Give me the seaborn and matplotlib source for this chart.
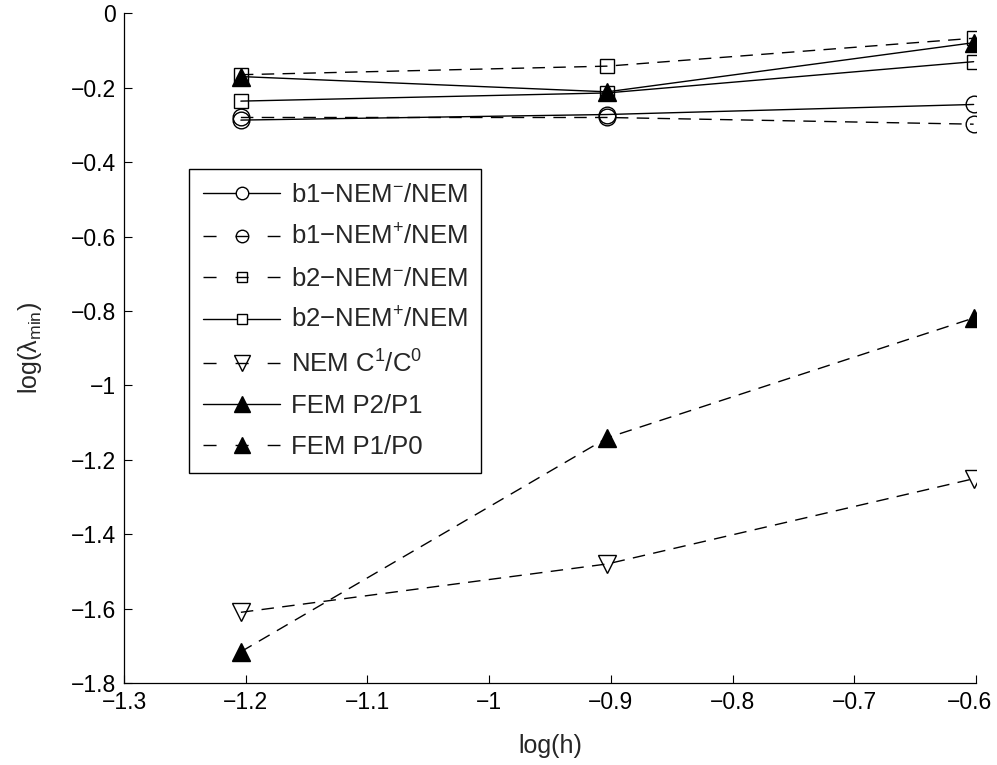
import numpy as np
import pandas as pd
import matplotlib
matplotlib.use("Agg")
import matplotlib.pyplot as plt
from matplotlib.lines import Line2D
from matplotlib.ticker import FuncFormatter
from matplotlib.transforms import ScaledTranslation
import seaborn as sns

# ---- data ----
log_h = [-1.204, -0.903, -0.602]

labels = [
    "b1\u2212NEM$^{-}$/NEM",
    "b1\u2212NEM$^{+}$/NEM",
    "b2\u2212NEM$^{-}$/NEM",
    "b2\u2212NEM$^{+}$/NEM",
    "NEM C$^{1}$/C$^{0}$",
    "FEM P2/P1",
    "FEM P1/P0",
]
b1_minus = [-0.287, -0.272, -0.245]
b1_plus = [-0.280, -0.280, -0.298]
b2_minus = [-0.165, -0.142, -0.067]
b2_plus = [-0.236, -0.214, -0.130]
nem_c1c0 = [-1.610, -1.480, -1.251]
fem_p2p1 = [-0.170, -0.211, -0.079]
fem_p1p0 = [-1.716, -1.141, -0.819]

series = [b1_minus, b1_plus, b2_minus, b2_plus, nem_c1c0, fem_p2p1, fem_p1p0]
markers = ["o", "o", "s", "s", "v", "^", "^"]
solid = [True, False, False, True, False, True, False]
filled = [False, False, False, False, False, True, True]
msize = {"o": 12, "s": 9.5, "v": 13, "^": 13.5}
leg_msize = {"o": 9, "s": 7.5, "v": 11, "^": 12}

x_ticks = [-1.3, -1.2, -1.1, -1.0, -0.9, -0.8, -0.7, -0.6]
y_ticks = [0, -0.2, -0.4, -0.6, -0.8, -1.0, -1.2, -1.4, -1.6, -1.8]

# ---- style ----
sns.set_theme(style="ticks")
plt.rcParams["font.family"] = ["Liberation Sans", "DejaVu Sans"]
plt.rcParams["mathtext.fontset"] = "custom"
plt.rcParams["mathtext.rm"] = "Liberation Sans"
plt.rcParams["mathtext.it"] = "Liberation Sans"
plt.rcParams["mathtext.default"] = "regular"

fig = plt.figure(figsize=(9.97, 7.65), dpi=100)
ax = fig.add_axes([0.1244, 0.1072, 0.979 - 0.1244, 0.9826 - 0.1072])

dash_ls = (0, (9, 6))
for vals, lab, mk, so, fi in zip(series, labels, markers, solid, filled):
    df = pd.DataFrame({"x": log_h, "y": vals})
    sns.lineplot(data=df, x="x", y="y", ax=ax, color="black",
                 linewidth=1.0, linestyle="-" if so else dash_ls,
                 marker=mk, markersize=msize[mk],
                 markerfacecolor="black" if fi else "none",
                 markeredgecolor="black", markeredgewidth=1.0,
                 errorbar=None, sort=False, zorder=3)

ax.set_xlim(-1.3, -0.6)
ax.set_ylim(-1.8, 0)
ax.set_xticks(x_ticks)
ax.set_yticks(y_ticks)
fmt = FuncFormatter(lambda v, p: ("%g" % round(v, 2)).replace("-", "\u2212"))
ax.xaxis.set_major_formatter(fmt)
ax.yaxis.set_major_formatter(fmt)
ax.tick_params(direction="in", length=6, width=0.8, labelsize=16.5, pad=6,
               colors="black")
for s in ["top", "right"]:
    ax.spines[s].set_visible(False)
for s in ["left", "bottom"]:
    ax.spines[s].set_color("black")
    ax.spines[s].set_linewidth(0.9)

# keep the last x tick label inside the figure (as in the reference)
last = ax.xaxis.get_major_ticks()[-1].label1
last.set_transform(last.get_transform() +
                   ScaledTranslation(-5 / 72, 0, fig.dpi_scale_trans))

ax.set_xlabel("log(h)", fontsize=18, labelpad=14)
ax.set_ylabel("log(λ$_{min}$)", fontsize=18, labelpad=19)

# legend with proxy handles (MATLAB-like dashed sample "- o -")
handles = []
for lab, mk, so, fi in zip(labels, markers, solid, filled):
    ls = "-" if so else (0, (9.4, 13.7))
    handles.append(Line2D([], [], color="black", linewidth=1.0, linestyle=ls,
                          marker=mk, markersize=leg_msize[mk],
                          markerfacecolor="black" if fi else ("white" if so else "none"),
                          markeredgecolor="black", markeredgewidth=1.0))
leg = ax.legend(handles, labels, loc="upper left",
                bbox_to_anchor=(0.0763, 0.767), fontsize=18.5,
                handlelength=3.0, handletextpad=0.4, labelspacing=0.66,
                borderpad=0.55, borderaxespad=0, frameon=True, fancybox=False)
leg.get_frame().set_edgecolor("black")
leg.get_frame().set_linewidth(1.0)
leg.get_frame().set_alpha(1)

fig.savefig("out.png", dpi=100)
